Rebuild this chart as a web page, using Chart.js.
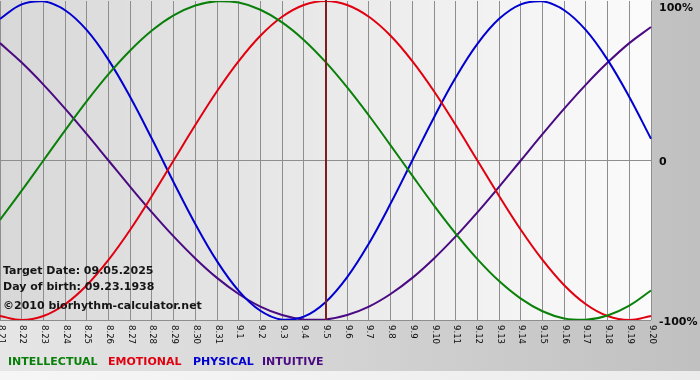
<!DOCTYPE html>
<html>
<head>
<meta charset="utf-8">
<title>Biorhythm</title>
<script src="https://cdn.jsdelivr.net/npm/chart.js@4.4.1/dist/chart.umd.min.js"></script>
<style>
	html, body { margin: 0; padding: 0; background: #ffffff; }
	#wrap { width: 700px; height: 380px; position: relative; }
</style>
</head>
<body>
<div id="wrap"><canvas id="bio-chart" width="700" height="380"></canvas></div>
<script>
// days shown on the x axis
const days = ['8.21','8.22','8.23','8.24','8.25','8.26','8.27','8.28','8.29','8.30','8.31',
	'9.1','9.2','9.3','9.4','9.5','9.6','9.7','9.8','9.9','9.10','9.11','9.12','9.13','9.14',
	'9.15','9.16','9.17','9.18','9.19','9.20']

// cycle values in percent
const intellectual = [-37.2, -18.9, 0, 18.9, 37.2, 54.1, 69.0, 81.5, 91.0, 97.2, 99.9, 99.0, 94.5, 86.6, 75.6, 61.8,
	45.8, 28.2, 9.5, -9.5, -28.2, -45.8, -61.8, -75.6, -86.6, -94.5, -99.0, -99.9, -97.2, -91.0, -81.5]
const emotional = [-97.5, -100, -97.5, -90.1, -78.2, -62.3, -43.4, -22.2, 0, 22.2, 43.4, 62.3, 78.2, 90.1, 97.5, 100,
	97.5, 90.1, 78.2, 62.3, 43.4, 22.2, 0, -22.2, -43.4, -62.3, -78.2, -90.1, -97.5, -100, -97.5]
const physical = [88.8, 97.9, 99.8, 94.2, 81.7, 63.1, 39.8, 13.6, -13.6, -39.8, -63.1, -81.7, -94.2, -99.8, -97.9, -88.8,
	-73.1, -52.0, -27.0, 0, 27.0, 52.0, 73.1, 88.8, 97.9, 99.8, 94.2, 81.7, 63.1, 39.8, 13.6]
const intuitive = [73.6, 61.4, 47.6, 32.5, 16.5, 0, -16.5, -32.5, -47.6, -61.4, -73.6, -83.7, -91.6, -96.9, -99.7, -99.7,
	-96.9, -91.6, -83.7, -73.6, -61.4, -47.6, -32.5, -16.5, 0, 16.5, 32.5, 47.6, 61.4, 73.6, 83.7]

// y labels
const yTickValues = [100, 0, -100]
const yTickLabels = ['100%', '0', '-100%']

const targetDay = '9.5'
const infoLines = ['Target Date: 09.05.2025', 'Day of birth: 09.23.1938', '\u00a92010 biorhythm-calculator.net']
const legendNames = ['INTELLECTUAL', 'EMOTIONAL', 'PHYSICAL', 'INTUITIVE']

const colors = {
	intellectual: '#0a800a',
	emotional: '#e00010',
	physical: '#0000d0',
	intuitive: '#4a0a82'
}

//backgrounds, labels, marker
const bioPlugin = {
	id: 'bioPlugin',
	beforeDraw(chart) {
		const ctx = chart.ctx
		const area = chart.chartArea
		ctx.save()
		// outer background
		let bg = ctx.createLinearGradient(0, 0, chart.width, 0)
		bg.addColorStop(0, '#e6e6e6')
		bg.addColorStop(1, '#c0c0c0')
		ctx.fillStyle = bg
		ctx.fillRect(0, 0, chart.width, chart.height)
		let strip = ctx.createLinearGradient(0, 0, chart.width, 0)
		strip.addColorStop(0, '#f6f6f6')
		strip.addColorStop(1, '#ececec')
		ctx.fillStyle = strip
		ctx.fillRect(0, 371, chart.width, chart.height - 371)
		// plot background
		let plotBg = ctx.createLinearGradient(area.left, 0, area.right, 0)
		plotBg.addColorStop(0, '#d8d8d8')
		plotBg.addColorStop(1, '#fbfbfb')
		ctx.fillStyle = plotBg
		ctx.fillRect(area.left, area.top - 1, area.right - area.left, area.bottom - area.top + 1)
		ctx.restore()
	},
	afterDatasetsDraw(chart) {
		const ctx = chart.ctx
		const area = chart.chartArea
		const x = chart.scales.x
		ctx.save()
		// target day marker
		const tx = Math.round(x.getPixelForValue(days.indexOf(targetDay)))
		ctx.strokeStyle = '#7d1f1f'
		ctx.lineWidth = 2
		ctx.beginPath()
		ctx.moveTo(tx, area.top - 1)
		ctx.lineTo(tx, area.bottom)
		ctx.stroke()
		ctx.restore()
	},
	afterDraw(chart) {
		const ctx = chart.ctx
		const area = chart.chartArea
		const x = chart.scales.x
		const y = chart.scales.y
		ctx.save()
		// rotated day labels
		ctx.fillStyle = '#0a0a0a'
		ctx.font = '9.5px "DejaVu Sans Condensed", "DejaVu Sans", sans-serif'
		ctx.textAlign = 'left'
		ctx.textBaseline = 'middle'
		days.forEach((d, i) => {
			const px = x.getPixelForValue(i)
			ctx.save()
			ctx.translate(px + 1, area.bottom + 5)
			ctx.rotate(Math.PI / 2)
			ctx.fillText(d, 0, 0)
			ctx.restore()
		})
		// percent labels on the right
		ctx.font = 'bold 11px "DejaVu Sans", sans-serif'
		yTickValues.forEach((v, i) => {
			let py = y.getPixelForValue(v) + 2
			if (py < 8) py = 8
			ctx.fillText(yTickLabels[i], area.right + 8, py)
		})
		// info text
		ctx.fillStyle = '#151515'
		ctx.textBaseline = 'middle'
		ctx.fillText(infoLines[0], 3, 271)
		ctx.fillText(infoLines[1], 3, 287)
		ctx.fillText(infoLines[2], 3, 306)
		// legend
		const legendX = [8, 108, 193, 262]
		const legendColors = [colors.intellectual, colors.emotional, colors.physical, colors.intuitive]
		legendNames.forEach((name, i) => {
			ctx.fillStyle = legendColors[i]
			ctx.fillText(name, legendX[i], 362)
		})
		ctx.restore()
	}
}

const makeSet = (label, data, color) => ({
	label: label,
	data: data,
	borderColor: color,
	borderWidth: 2,
	pointRadius: 0,
	tension: 0.4,
	fill: false
})

const chart_ctx = document.getElementById('bio-chart').getContext('2d')
const bio_chart = new Chart(chart_ctx, {
	type: 'line',
	data: {
		labels: days,
		datasets: [
			makeSet('INTELLECTUAL', intellectual, colors.intellectual),
			makeSet('EMOTIONAL', emotional, colors.emotional),
			makeSet('PHYSICAL', physical, colors.physical),
			makeSet('INTUITIVE', intuitive, colors.intuitive)
		]
	},
	options: {
		responsive: false,
		animation: false,
		layout: { padding: { left: 0, top: 1, right: 49, bottom: 60 } },
		plugins: {
			legend: { display: false },
			tooltip: { enabled: false }
		},
		scales: {
			x: {
				ticks: { display: false },
				grid: { color: '#8e8e8e', lineWidth: 1, drawTicks: false },
				border: { display: false }
			},
			y: {
				min: -100,
				max: 100,
				ticks: { display: false, stepSize: 100 },
				grid: {
					drawTicks: false,
					color: (c) => c.tick && c.tick.value === 100 ? 'rgba(0,0,0,0)' : '#8e8e8e'
				},
				border: { display: false }
			}
		}
	},
	plugins: [bioPlugin]
})
</script>
</body>
</html>
